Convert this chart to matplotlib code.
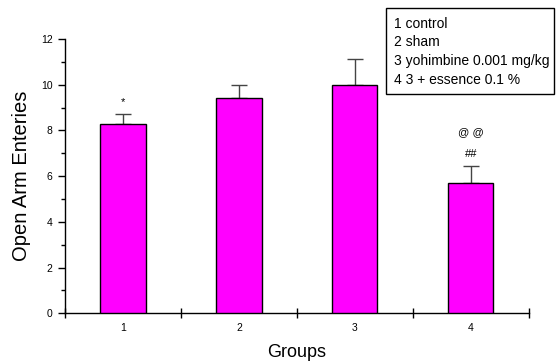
import matplotlib
matplotlib.use("Agg")
import matplotlib.pyplot as plt
from matplotlib.patches import Rectangle
from matplotlib.ticker import MultipleLocator, FixedLocator

plt.rcParams['font.family'] = ['Liberation Sans', 'DejaVu Sans']

groups = [1, 2, 3, 4]
means = [8.27, 9.41, 10.0, 5.69]
sem = [0.44, 0.56, 1.13, 0.76]
marks = ["*", "", "", "##"]
marks_top = ["", "", "", "@ @"]
legend_lines = ["1 control", "2 sham", "3 yohimbine 0.001 mg/kg", "4 3 + essence 0.1 %"]

fig = plt.figure(figsize=(5.56, 3.61), dpi=100)
ax = fig.add_axes([0.117, 0.132, 0.834, 0.760])

ax.bar(groups, means, width=0.39, color="#ff00ff", edgecolor="black", linewidth=1.0, zorder=3)
ax.errorbar(groups, means, yerr=[[0] * len(sem), sem], fmt="none", ecolor="#444444",
            elinewidth=1.0, capsize=6, capthick=1.0, zorder=2)

for g, m, s, t in zip(groups, means, sem, marks):
    if t:
        ax.text(g, m + s + 0.3, t, ha="center", va="bottom", fontsize=8)
for g, m, s, t in zip(groups, means, sem, marks_top):
    if t:
        ax.text(g, m + s + 1.25, t, ha="center", va="bottom", fontsize=8)

ax.set_xlim(0.5, 4.5)
ax.set_ylim(0, 12)
for side in ("top", "right"):
    ax.spines[side].set_visible(False)
for side in ("left", "bottom"):
    ax.spines[side].set_linewidth(1.0)

ax.xaxis.set_major_locator(FixedLocator(groups))
ax.xaxis.set_minor_locator(FixedLocator([0.5, 1.5, 2.5, 3.5, 4.5]))
ax.yaxis.set_major_locator(MultipleLocator(2))
ax.yaxis.set_minor_locator(MultipleLocator(1))
ax.tick_params(axis="x", which="major", length=0, labelsize=7.5, pad=7)
ax.tick_params(axis="x", which="minor", direction="inout", length=7, width=1.0)
ax.tick_params(axis="y", which="major", direction="out", length=5, width=1.0, labelsize=7.5, pad=4)
ax.tick_params(axis="y", which="minor", direction="out", length=3, width=1.0)

ax.set_xlabel("Groups", fontsize=13, labelpad=8)
ax.set_ylabel("Open Arm Enteries", fontsize=14.5, labelpad=7)

# key box in the upper-right corner
W, H = 556, 361
x0, y0, x1, y1 = 386, 8, 554, 94
fig.patches.append(Rectangle((x0 / W, 1 - y1 / H), (x1 - x0) / W, (y1 - y0) / H,
                             transform=fig.transFigure, fill=False,
                             edgecolor="black", linewidth=1.0))
for i, line in enumerate(legend_lines):
    fig.text(394 / W, 1 - (24 + 18.5 * i) / H, line, ha="left", va="center", fontsize=10)

fig.savefig("out.png", dpi=100)
